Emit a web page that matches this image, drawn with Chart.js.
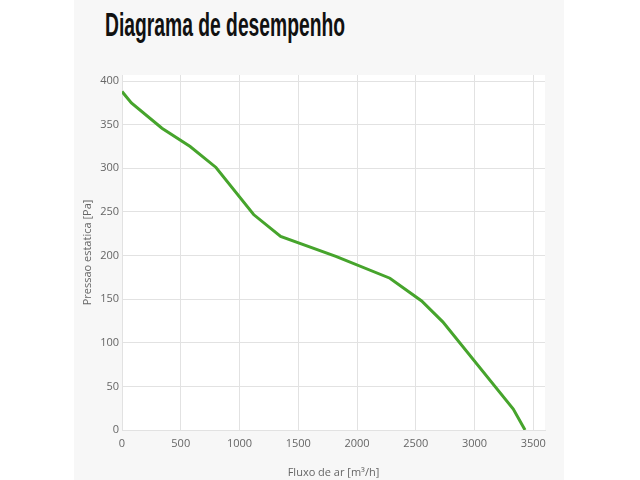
<!DOCTYPE html>
<html>
<head>
<meta charset="utf-8">
<script src="https://cdn.jsdelivr.net/npm/chart.js@4/dist/chart.umd.min.js"></script>
<style>
  html, body { margin: 0; padding: 0; background: #fff; }
  .panel { position: absolute; left: 74px; top: 0; width: 490px; height: 480px; background: #f7f7f7; }
  h2 { position: absolute; left: 31px; top: 6px; margin: 0; white-space: nowrap; font: bold 29px "Liberation Sans", sans-serif; color: #111; transform: scale(0.665, 1.14); transform-origin: left top; }
  canvas { position: absolute; left: 0; top: 0; }
</style>
</head>
<body>
<div class="panel">
  <h2>Diagrama de desempenho</h2>
  <canvas id="perfChart" width="490" height="480"></canvas>
</div>
<script>
const flow = [0, 80, 340, 580, 800, 1120, 1350, 1820, 2280, 2550, 2730, 3330, 3430];
const pressure = [388, 375, 346, 325, 301, 247, 222, 199, 174, 148, 124, 24, 0];
const flowTicks = [0, 500, 1000, 1500, 2000, 2500, 3000, 3500];
const pressureTicks = [0, 50, 100, 150, 200, 250, 300, 350, 400];
const xTitle = 'Fluxo de ar [m³/h]';
const yTitle = 'Pressao estatica [Pa]';

const whiteArea = {
  id: 'whiteArea',
  beforeDraw(chart) {
    const { ctx, chartArea } = chart;
    ctx.save();
    ctx.fillStyle = '#fff';
    ctx.fillRect(chartArea.left, chartArea.top, chartArea.right - chartArea.left, chartArea.bottom - chartArea.top);
    ctx.restore();
  }
};

// put our own tick list in place of the generated one
const useTicks = (list) => (scale) => {
  scale.ticks = list.map(v => ({ value: v }));
};

const font = { family: 'Open Sans', size: 11 };
const gridColor = '#e2e2e2';

const ctx = document.getElementById('perfChart');
new Chart(ctx, {
  type: 'line',
  data: {
    datasets: [{
      data: flow.map((f, i) => ({ x: f, y: pressure[i] })),
      borderColor: '#46a42c',
      borderWidth: 3,
      pointRadius: 0,
      tension: 0
    }]
  },
  plugins: [whiteArea],
  options: {
    responsive: false,
    animation: false,
    layout: { padding: { top: 75, right: 19, left: 0, bottom: 0 } },
    plugins: { legend: { display: false }, tooltip: { enabled: false } },
    scales: {
      x: {
        type: 'linear',
        min: 0,
        max: 3600,
        afterBuildTicks: useTicks(flowTicks),
        afterFit: (s) => { s.height = 50; },
        grid: { color: gridColor, drawTicks: false },
        border: { color: gridColor },
        ticks: { autoSkip: false, padding: 7, color: '#666', font, maxRotation: 0, callback: v => String(v) },
        title: { display: true, text: xTitle, color: '#666', font, padding: { top: 0, bottom: 1 } }
      },
      y: {
        min: 0,
        max: 407,
        afterBuildTicks: useTicks(pressureTicks),
        afterFit: (s) => { s.width = 48; },
        grid: { color: gridColor, drawTicks: false },
        border: { color: gridColor },
        ticks: { autoSkip: false, padding: 3, color: '#666', font, callback: v => String(v) },
        title: { display: true, text: yTitle, color: '#666', font, padding: { top: 7, bottom: 0 } }
      }
    }
  }
});
</script>
</body>
</html>
